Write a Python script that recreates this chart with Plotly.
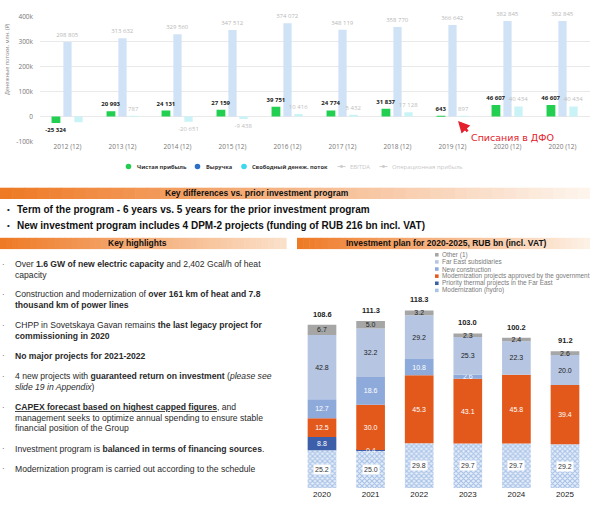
import plotly.graph_objects as go

W, H = 590, 508


def px(x):
    return x / W


def py(y):
    return 1 - y / H


# ---------------- Top chart data ----------------
periods = ["2012 (12)", "2013 (12)", "2014 (12)", "2015 (12)", "2016 (12)",
           "2017 (12)", "2018 (12)", "2019 (12)", "2020 (12)", "2020 (12)"]
net_profit = [-25324, 20993, 24131, 27159, 39751, 24774, 31837, 643, 46607, 46607]
revenue = [298805, 313632, 329560, 347512, 374072, 348119, 358770, 366642, 382845, 382845]
free_cash_flow = [-23000, 787, -20651, -9438, 10416, 5432, 17128, 897, 40434, 40434]
fcf_label_shown = [False, True, True, True, True, True, True, True, True, True]
y_ticks = [-100000, 0, 100000, 200000, 300000, 400000]
y_tick_labels = ["-100k", "0", "100k", "200k", "300k", "400k"]

# ---------------- Bottom chart data ----------------
years = ["2020", "2021", "2022", "2023", "2024", "2025"]
hydro = [25.2, 25.0, 29.8, 29.7, 29.7, 29.2]
priority_far_east = [8.8, 0.4, 0, 0, 0, 0]
modernization_gov = [12.5, 30.0, 45.3, 43.1, 45.8, 39.4]
new_construction = [12.7, 18.6, 10.8, 2.6, 0, 0]
far_east_subs = [42.8, 32.2, 29.2, 25.3, 22.3, 20.0]
other = [6.7, 5.0, 3.2, 2.3, 2.4, 2.6]
totals = [108.6, 111.3, 118.3, 103.0, 100.2, 91.2]

highlights = [
    (264, True, "Over <b>1.6 GW of new electric capacity</b> and 2,402 Gcal/h of heat"),
    (274.5, False, "capacity"),
    (294.5, True, "Construction and modernization of <b>over 161 km of heat and 7.8</b>"),
    (305, False, "<b>thousand km of power lines</b>"),
    (326, True, "CHPP in Sovetskaya Gavan remains <b>the last legacy project for</b>"),
    (336.5, False, "<b>commissioning in 2020</b>"),
    (357, True, "<b>No major projects for 2021-2022</b>"),
    (378, True, "4 new projects with <b>guaranteed return on investment</b> (<i>please see</i>"),
    (388.5, False, "<i>slide 19 in Appendix</i>)"),
    (409.5, True, "<b><u>CAPEX forecast based on highest capped figures</u></b>, and"),
    (420, False, "management seeks to optimize annual spending to ensure stable"),
    (430.5, False, "financial position of the Group"),
    (451.5, True, "Investment program is <b>balanced in terms of financing sources</b>."),
    (472, True, "Modernization program is carried out according to the schedule"),
]


def fmt(v):
    return f"{v:,}".replace(",", " ")


TOPFONT = "Open Sans"
SLIDEFONT = "Liberation Sans"

fig = go.Figure()
idx = list(range(len(periods)))

fig.add_trace(go.Bar(
    x=idx, y=revenue, width=0.15, offset=-0.075,
    marker=dict(color="#d0e2f5", line=dict(width=0)),
    text=[fmt(v) for v in revenue], textposition="outside",
    textfont=dict(size=6, color="#b8b8b8", family=TOPFONT),
    cliponaxis=False, constraintext="none", xaxis="x", yaxis="y"))
fig.add_trace(go.Bar(
    x=idx, y=free_cash_flow, width=0.15, offset=0.125,
    marker=dict(color="#c9f3f6", line=dict(width=0)),
    text=[fmt(v) if s else "" for v, s in zip(free_cash_flow, fcf_label_shown)],
    textposition="outside",
    textfont=dict(size=6, color="#bdbdbd", family=TOPFONT),
    cliponaxis=False, constraintext="none", xaxis="x", yaxis="y"))
fig.add_trace(go.Bar(
    x=idx, y=net_profit, width=0.16, offset=-0.29,
    marker=dict(color="#22cf50", line=dict(width=0)),
    text=["<b>" + fmt(v) + "</b>" for v in net_profit], textposition="outside",
    textfont=dict(size=6, color="#1a1a1a", family=TOPFONT),
    cliponaxis=False, constraintext="none", xaxis="x", yaxis="y"))

# ---------------- Bottom stacked chart ----------------
yidx = list(range(len(years)))
series = [
    ("Modernization (hydro)", hydro, None, "#1a1a1a"),
    ("Priority thermal projects in the Far East", priority_far_east, "#3d5fa9", "#ffffff"),
    ("Modernization projects approved by the government", modernization_gov, "#e3591b", "#ffffff"),
    ("New construction", new_construction, "#8eaadb", "#ffffff"),
    ("Far East subsidiaries", far_east_subs, "#b6c6e2", "#222222"),
    ("Other (1)", other, "#a6a6a6", "#222222"),
]
annotations = []
shapes = []


def note(x, y, text, size, color, family=SLIDEFONT, xanchor="center", **kw):
    d = dict(x=px(x), y=py(y), xref="paper", yref="paper", text=text, showarrow=False,
             xanchor=xanchor, yanchor="middle",
             font=dict(size=size, color=color, family=family))
    d.update(kw)
    annotations.append(d)


base = [0.0] * len(years)
for name, vals, color, tcolor in series:
    if color is None:
        marker = dict(color="#dde8f6",
                      pattern=dict(shape="x", fgcolor="#6a96d4", bgcolor="#e6eef9",
                                   size=3.5, solidity=0.55),
                      line=dict(width=0))
        text = None
    else:
        marker = dict(color=color, line=dict(width=0))
        text = [f"{v:.1f}" if v >= 1 else "" for v in vals]
        for i, v in enumerate(vals):
            if 0 < v < 1:
                annotations.append(dict(x=i, y=base[i] + v / 2, xref="x2", yref="y2",
                                        text=f"{v:.1f}", showarrow=False,
                                        xanchor="center", yanchor="middle",
                                        font=dict(size=7, color="#f4f4f4", family=SLIDEFONT)))
    fig.add_trace(go.Bar(
        x=yidx, y=vals, base=list(base), width=0.59, name=name,
        marker=marker, text=text, textposition="inside", insidetextanchor="middle",
        textfont=dict(size=7, color=tcolor, family=SLIDEFONT),
        constraintext="none", cliponaxis=False,
        xaxis="x2", yaxis="y2"))
    base = [b + v for b, v in zip(base, vals)]

# hydro labels in white boxes
for i, v in enumerate(hydro):
    annotations.append(dict(x=i, y=v / 2, xref="x2", yref="y2", text=f"{v:.1f}",
                            showarrow=False, bgcolor="#ffffff", borderpad=1,
                            xanchor="center", yanchor="middle",
                            font=dict(size=7, color="#333333", family=SLIDEFONT)))
# totals
for i, t in enumerate(totals):
    annotations.append(dict(x=i, y=t, xref="x2", yref="y2", text=f"<b>{t:.1f}</b>",
                            showarrow=False, yanchor="bottom", yshift=4, xanchor="center",
                            font=dict(size=7.5, color="#222222", family=SLIDEFONT)))

# ---------------- Top legend (custom) ----------------
leg_y = 164.5
for cx, color, label, tx in [(128.5, "#22cc4e", "Чистая прибыль", 135),
                             (197.5, "#2b6fc6", "Выручка", 204),
                             (244, "#3cd9ec", "Свободный денеж. поток", 250)]:
    shapes.append(dict(type="circle", xref="paper", yref="paper",
                       x0=px(cx - 2.8), x1=px(cx + 2.8), y0=py(leg_y + 2.8), y1=py(leg_y - 2.8),
                       fillcolor=color, line=dict(width=0)))
    note(tx, leg_y, f"<b>{label}</b>", 5.7, "#333333", TOPFONT, xanchor="left")
for lx, label, tx in [(337.5, "EBITDA", 348), (379.5, "Операционная прибыль", 390)]:
    shapes.append(dict(type="line", xref="paper", yref="paper",
                       x0=px(lx), x1=px(lx + 8), y0=py(leg_y), y1=py(leg_y),
                       line=dict(color="#cccccc", width=1)))
    shapes.append(dict(type="circle", xref="paper", yref="paper",
                       x0=px(lx + 2.5), x1=px(lx + 5.5), y0=py(leg_y + 1.5), y1=py(leg_y - 1.5),
                       fillcolor="#cccccc", line=dict(width=0)))
    note(tx, leg_y, label, 5.9, "#c8c8c8", TOPFONT, xanchor="left")

# y-axis title
note(7, 55, "Денежные потоки, млн. (₽)", 5.5, "#888888", TOPFONT, textangle=-90)

# red arrow + text
annotations.append(dict(x=px(458), y=py(118), xref="paper", yref="paper", text="",
                        showarrow=True, ax=11, ay=12, arrowhead=2, arrowsize=0.9,
                        arrowwidth=2.6, arrowcolor="#e3202b"))
note(469, 134.5, "Списания в ДФО", 9.5, "#e3202b", "DejaVu Sans", xanchor="left")


# ---------------- Banners ----------------
def hexmix(c1, c2, t):
    a = [int(c1[i:i + 2], 16) for i in (1, 3, 5)]
    b = [int(c2[i:i + 2], 16) for i in (1, 3, 5)]
    return "#" + "".join(f"{round(a[k] + (b[k] - a[k]) * t):02x}" for k in range(3))


def banner(x0, x1, y0, y1, c_end, n=48):
    step = (x1 - x0) / n
    for k in range(n):
        t = k / (n - 1)
        shapes.append(dict(type="rect", xref="paper", yref="paper",
                           x0=px(x0 + k * step), x1=px(x0 + (k + 1) * step + 0.6),
                           y0=py(y1), y1=py(y0),
                           fillcolor=hexmix("#ee7a26", c_end, t), line=dict(width=0),
                           layer="below"))


banner(0, 590, 186, 197.5, "#fdf4ec")
banner(0, 286, 237, 248.5, "#fbe0c9")
banner(297, 590, 237, 248.5, "#fdf1e6")

note(257, 191.8, "<b>Key differences vs. prior investment program</b>", 8.5, "#111111")
note(137, 242.8, "<b>Key highlights</b>", 8.5, "#111111")
note(446.5, 242.8, "<b>Investment plan for 2020-2025, RUB bn (incl. VAT)</b>", 8.5, "#111111")

for yy, txt in [(207.8, "Term of the program - 6 years vs. 5 years for the prior investment program"),
                (224, "New investment program includes 4 DPM-2 projects (funding of RUB 216 bn incl. VAT)")]:
    note(5, yy, "•", 8, "#222222", xanchor="left")
    note(15, yy, f"<b>{txt}</b>", 10, "#111111", xanchor="left")

for yy, first, txt in highlights:
    if first:
        note(0, yy, "·", 8, "#444444", xanchor="left")
    note(13, yy, txt, 8.6, "#2a2a2a", xanchor="left")

# bottom legend (custom)
leg_items = [("Other (1)", "#a6a6a6"),
             ("Far East subsidiaries", "#b6c6e2"),
             ("New construction", "#8eaadb"),
             ("Modernization projects approved by the government", "#e3591b"),
             ("Priority thermal projects in the Far East", "#3d5fa9"),
             ("Modernization (hydro)", "#a9c2e6")]
for k, (label, color) in enumerate(leg_items):
    yy = 254.3 + k * 7.25
    shapes.append(dict(type="rect", xref="paper", yref="paper",
                       x0=px(435), x1=px(438.6), y0=py(yy + 1.8), y1=py(yy - 1.8),
                       fillcolor=color, line=dict(width=0)))
    note(439.5, yy, label, 6.4, "#7a7a7a", xanchor="left")

fig.update_layout(
    width=W, height=H, margin=dict(l=0, r=0, t=0, b=0),
    paper_bgcolor="#ffffff", plot_bgcolor="rgba(0,0,0,0)",
    barmode="overlay", showlegend=False, hovermode=False,
    xaxis=dict(domain=[px(40), 1], range=[-0.5, 9.5], tickvals=idx, ticktext=periods,
               showgrid=False, zeroline=False, showline=False, ticks="",
               tickfont=dict(size=6.5, color="#777777", family=TOPFONT)),
    yaxis=dict(domain=[py(139), py(12)], range=[-100000, 400000], tickvals=y_ticks,
               ticktext=y_tick_labels, showgrid=True, gridcolor="#e9e9e9", gridwidth=1,
               zeroline=False, showline=False, ticks="", ticklabelstandoff=6,
               tickfont=dict(size=6.5, color="#777777", family=TOPFONT)),
    xaxis2=dict(domain=[px(297.7), px(589.3)], range=[-0.5, 5.5], tickvals=yidx, ticktext=years,
                showgrid=False, zeroline=False, showline=False, ticks="",
                tickfont=dict(size=8, color="#1a1a1a", family=SLIDEFONT), tickprefix="<b>",
                ticksuffix="</b>", anchor="y2"),
    yaxis2=dict(domain=[py(491.7), py(293.1)], range=[0, 130], visible=False, anchor="x2"),
    annotations=annotations, shapes=shapes,
)

fig.write_html("out.html", config={"displayModeBar": False},
               post_script="document.body.style.margin='0';document.body.style.padding='0';")
